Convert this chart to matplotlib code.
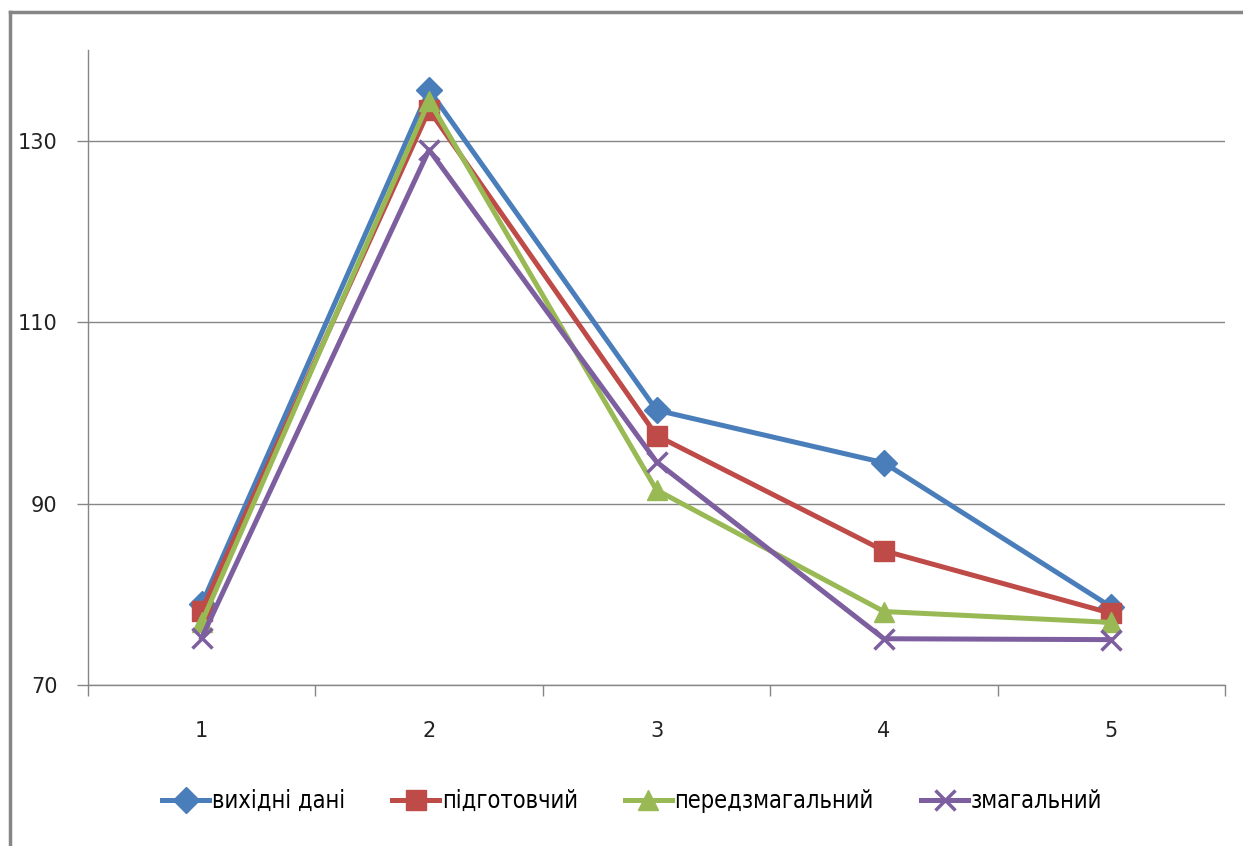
import matplotlib
matplotlib.use("Agg")
import matplotlib.pyplot as plt
from matplotlib.lines import Line2D
import numpy as np

categories = [1, 2, 3, 4, 5]
series_names = ["вихідні дані", "підготовчий", "передзмагальний", "змагальний"]
vyhidni = [78.9, 135.6, 100.3, 94.5, 78.6]
pidgotovchyi = [78.2, 133.4, 97.5, 84.8, 77.9]
peredzmagalnyi = [76.9, 134.4, 91.5, 78.1, 76.9]
zmagalnyi = [75.2, 129.0, 94.6, 75.1, 75.0]
y_ticks = [70, 90, 110, 130]

colors = ["#4A7EBB", "#BE4B48", "#98B954", "#7D5FA0"]
markers = ["D", "s", "^", "x"]
msizes = [13.5, 14, 15, 14]

fig = plt.figure(figsize=(12.43, 8.46), dpi=100)
ax = fig.add_axes([88/1243, 1-685/846, (1225-88)/1243, (685-50)/846])

data = [vyhidni, pidgotovchyi, peredzmagalnyi, zmagalnyi]
x = np.arange(1, len(categories)+1)
for vals, c, m, ms, name in zip(data, colors, markers, msizes, series_names):
    ax.plot(x, vals, color=c, lw=3.6, marker=m, markersize=ms,
            markeredgewidth=2.5 if m == "x" else 1, markeredgecolor=c,
            markerfacecolor=c, label=name, solid_joinstyle="round", zorder=3)

ax.set_xlim(0.5, 5.5)
ax.set_ylim(70, 140)
ax.set_yticks(y_ticks)
ax.set_yticklabels([str(v) for v in y_ticks], fontsize=15, color="#222222")
ax.set_xticks(x)
ax.set_xticklabels([str(c) for c in categories], fontsize=15, color="#222222")
ax.set_xticks(np.arange(0.5, 5.6, 1.0), minor=True)
ax.tick_params(axis="x", which="major", length=0, pad=26)
ax.tick_params(axis="x", which="minor", length=8, color="#868686", width=1, direction="out")
ax.tick_params(axis="y", length=8, color="#868686", width=1, direction="out", pad=14)
ax.yaxis.grid(True, color="#868686", lw=1)
ax.set_axisbelow(True)
for s in ["top", "right"]:
    ax.spines[s].set_visible(False)
for s in ["left", "bottom"]:
    ax.spines[s].set_color("#868686")
    ax.spines[s].set_linewidth(1)

leg = fig.legend(loc="center", bbox_to_anchor=(632/1243, 1-801/846), ncol=4,
                 frameon=False, prop={"family": "DejaVu Sans", "stretch": "condensed", "size": 17},
                 handlelength=2.0, handletextpad=0.1, columnspacing=2.0)

fig.add_artist(Line2D([9.5/1243, 9.5/1243], [0, 1-12/846], color="#868686", lw=2.5, transform=fig.transFigure))
fig.add_artist(Line2D([9.5/1243, 1], [1-12/846, 1-12/846], color="#868686", lw=2.5, transform=fig.transFigure))

fig.savefig("out.png", dpi=100)
